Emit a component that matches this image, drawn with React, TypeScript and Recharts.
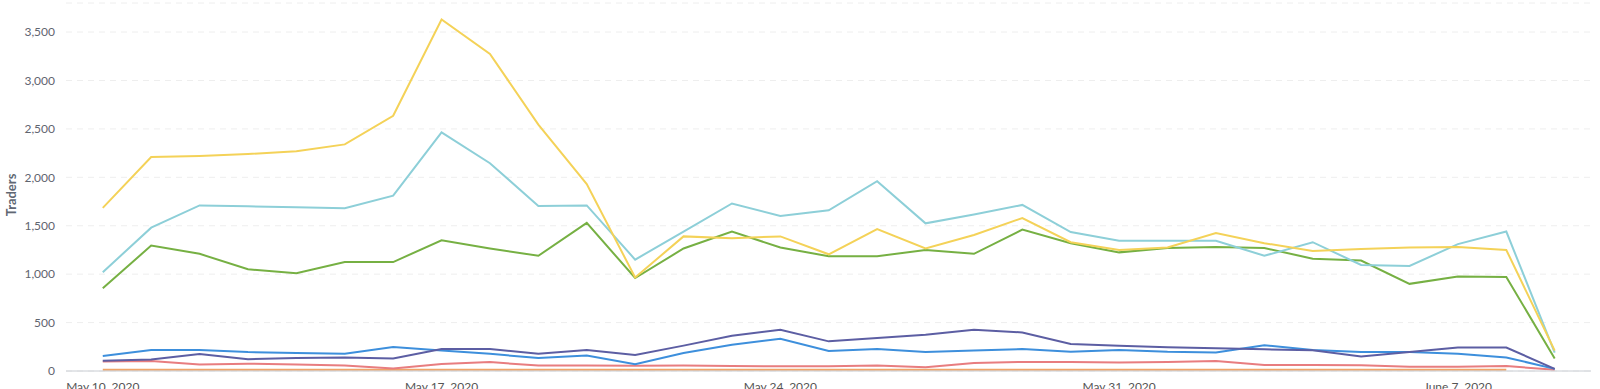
import React from "react";
import { LineChart, Line, XAxis, YAxis, CartesianGrid, Label } from "recharts";

// one point per day, May 10 2020 .. June 9 2020
const dates = [
  "2020-05-10", "2020-05-11", "2020-05-12", "2020-05-13", "2020-05-14", "2020-05-15", "2020-05-16",
  "2020-05-17", "2020-05-18", "2020-05-19", "2020-05-20", "2020-05-21", "2020-05-22", "2020-05-23",
  "2020-05-24", "2020-05-25", "2020-05-26", "2020-05-27", "2020-05-28", "2020-05-29", "2020-05-30",
  "2020-05-31", "2020-06-01", "2020-06-02", "2020-06-03", "2020-06-04", "2020-06-05", "2020-06-06",
  "2020-06-07", "2020-06-08", "2020-06-09",
];

const yellowSeries = [1685, 2210, 2220, 2240, 2270, 2340, 2635, 3630, 3275, 2545, 1930, 965, 1390, 1370, 1390, 1205, 1465, 1265, 1405, 1580, 1330, 1250, 1275, 1425, 1320, 1240, 1260, 1275, 1280, 1250, 210];
const cyanSeries = [1020, 1480, 1710, 1700, 1690, 1680, 1810, 2465, 2145, 1705, 1710, 1150, 1440, 1730, 1600, 1660, 1960, 1525, 1615, 1715, 1435, 1345, 1345, 1345, 1190, 1330, 1095, 1085, 1310, 1440, 190];
const greenSeries = [855, 1295, 1210, 1050, 1010, 1125, 1125, 1350, 1265, 1190, 1530, 960, 1265, 1440, 1275, 1185, 1185, 1250, 1210, 1460, 1320, 1225, 1270, 1280, 1270, 1160, 1140, 900, 975, 970, 130];
const purpleSeries = [105, 120, 175, 122, 133, 140, 130, 228, 228, 177, 218, 165, 262, 365, 425, 306, 342, 375, 425, 398, 280, 260, 246, 234, 224, 214, 150, 196, 243, 243, 22];
const blueSeries = [155, 217, 217, 195, 185, 177, 248, 212, 178, 133, 160, 70, 185, 272, 332, 207, 226, 195, 212, 226, 198, 218, 198, 192, 266, 216, 196, 196, 178, 140, 22];
const redSeries = [98, 103, 67, 76, 66, 58, 25, 72, 92, 56, 57, 53, 57, 52, 48, 48, 56, 38, 82, 94, 93, 89, 92, 103, 62, 62, 60, 43, 43, 51, 12];
const orangeSeries = [13, 13, 14, 14, 13, 13, 13, 14, 14, 13, 13, 12, 13, 13, 13, 13, 13, 13, 14, 14, 13, 13, 13, 13, 13, 13, 13, 13, 13, 13, null];

const xTicks = [0, 7, 14, 21, 28];
const xTickLabels = ["May 10, 2020", "May 17, 2020", "May 24, 2020", "May 31, 2020", "June 7, 2020"];
const yTicks = [0, 500, 1000, 1500, 2000, 2500, 3000, 3500];

const data = dates.map((date, i) => ({
  day: i,
  date,
  yellow: yellowSeries[i],
  cyan: cyanSeries[i],
  green: greenSeries[i],
  purple: purpleSeries[i],
  blue: blueSeries[i],
  red: redSeries[i],
  orange: orangeSeries[i],
}));

const lines = [
  { key: "orange", color: "#f0a467" },
  { key: "red", color: "#e87d7f" },
  { key: "blue", color: "#3d8fdc" },
  { key: "purple", color: "#5c5ea3" },
  { key: "green", color: "#76b043" },
  { key: "cyan", color: "#8dcfd8" },
  { key: "yellow", color: "#f4d258" },
];

const font = "Lato, 'Open Sans', sans-serif";

const TradersLabel = () => (
  <text
    x={11}
    y={195}
    transform="rotate(-90 11 195)"
    textAnchor="middle"
    dominantBaseline="central"
    fontFamily={font}
    fontSize={13}
    fontWeight={700}
    fill="#606773"
  >
    Traders
  </text>
);

export default function App() {
  return (
    <div style={{ position: "absolute", left: 0, top: 0, width: 1600, height: 389, background: "#fff" }}>
      <LineChart width={1600} height={389} data={data} margin={{ top: 3, right: 9, bottom: 0, left: 0 }}>
        <CartesianGrid vertical={false} stroke="#eeeeee" strokeDasharray="6 5" />
        <XAxis
          dataKey="day"
          type="number"
          domain={[-0.76, 30.75]}
          ticks={xTicks}
          tickFormatter={(v) => xTickLabels[xTicks.indexOf(v)] ?? ""}
          height={18}
          tickLine={false}
          tickMargin={5}
          axisLine={{ stroke: "#c8ccd2" }}
          tick={{ fontSize: 12, fill: "#555", fontFamily: font }}
          interval={0}
        />
        <YAxis
          width={66}
          domain={[0, 3800]}
          ticks={yTicks}
          tickFormatter={(v) => v.toLocaleString("en-US")}
          tickLine={false}
          axisLine={false}
          tickMargin={5}
          tick={{ fontSize: 12, fill: "#5f6570", fontFamily: font }}
        >
          <Label content={<TradersLabel />} />
        </YAxis>
        {lines.map((l) => (
          <Line
            key={l.key}
            dataKey={l.key}
            stroke={l.color}
            strokeWidth={2}
            dot={false}
            type="linear"
            isAnimationActive={false}
          />
        ))}
      </LineChart>
    </div>
  );
}
